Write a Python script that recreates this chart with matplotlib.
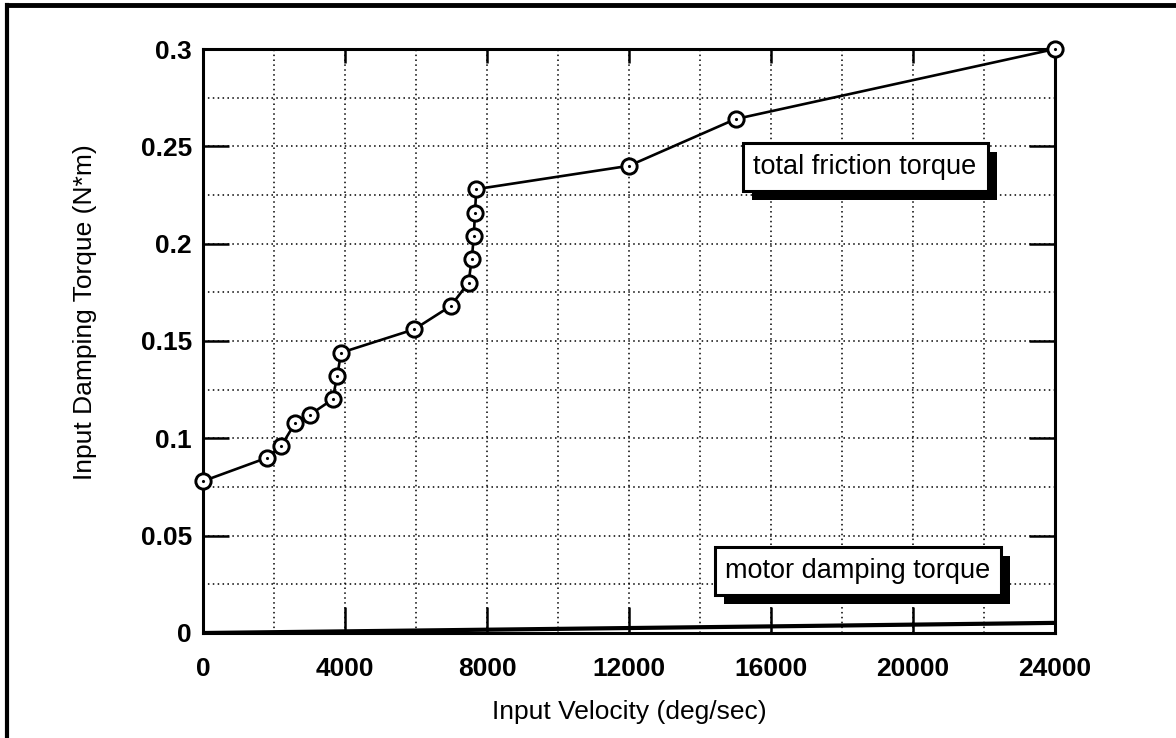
import numpy as np
import matplotlib
matplotlib.use("Agg")
import matplotlib.pyplot as plt
import matplotlib.patheffects as pe
from matplotlib.lines import Line2D

# total friction torque
vel_total = [0, 1800, 2200, 2600, 3000, 3650, 3780, 3890, 5950, 6980, 7480,
             7570, 7630, 7660, 7700, 12000, 15000, 24000]
torque_total = [0.078, 0.090, 0.096, 0.108, 0.112, 0.120, 0.132, 0.144, 0.156,
                0.168, 0.180, 0.192, 0.204, 0.216, 0.228, 0.240, 0.264, 0.300]

# motor damping torque
vel_motor = [0, 8000, 16000, 24000]
torque_motor = [0.0, 0.0017, 0.0034, 0.0052]

xticks = [0, 4000, 8000, 12000, 16000, 20000, 24000]
yticks = [0, 0.05, 0.1, 0.15, 0.2, 0.25, 0.3]
ytick_labels = ["0", "0.05", "0.1", "0.15", "0.2", "0.25", "0.3"]

font = ["Liberation Sans", "DejaVu Sans"]

fig = plt.figure(figsize=(11.76, 7.38), dpi=100)
ax = fig.add_axes([203/1176, 1-633/738, 852/1176, 584/738])

ax.plot(vel_total, torque_total, color="black", lw=1.9, marker="o", ms=11,
        mfc="white", mec="black", mew=2.1, clip_on=False, zorder=5)
ax.plot(vel_total, torque_total, ls="none", marker=".", ms=2.5, color="black",
        clip_on=False, zorder=6)
ax.plot(vel_motor, torque_motor, color="black", lw=3, zorder=4)

ax.set_xlim(0, 24000)
ax.set_ylim(0, 0.3)
ax.set_xticks(xticks)
ax.set_xticklabels([str(v) for v in xticks])
ax.set_yticks(yticks)
ax.set_yticklabels(ytick_labels)
ax.set_xticks(np.arange(0, 24001, 2000), minor=True)
ax.set_yticks(np.arange(0, 0.3001, 0.025), minor=True)
ax.grid(which="both", color="black", ls=(0, (1, 2.2)), lw=1.1)
ax.tick_params(which="major", direction="in", length=19, width=1.8,
               top=False, right=True)
ax.tick_params(which="minor", length=0)
ax.tick_params(axis="x", pad=17)
ax.tick_params(axis="y", pad=8)
for lab in ax.get_xticklabels() + ax.get_yticklabels():
    lab.set_family(font)
    lab.set_fontsize(19)
    lab.set_fontweight("bold")
for s in ax.spines.values():
    s.set_linewidth(2.2)

# shorter ticks along the top edge
top = ax.secondary_xaxis("top")
top.set_xticks(xticks)
top.tick_params(direction="in", length=10, width=1.8, labeltop=False)

ax.set_xlabel("Input Velocity (deg/sec)", family=font, fontsize=19)
ax.set_ylabel("Input Damping Torque (N*m)", family=font, fontsize=19)
ax.xaxis.set_label_coords(0.5, -0.115)
ax.yaxis.set_label_coords(-0.124, 0.55)


def shadow_box(x, y, txt):
    t = ax.text(x, y, txt, ha="center", va="center", fontsize=19.5,
                family=font, zorder=8,
                bbox=dict(boxstyle="square,pad=0.4", fc="white", ec="black",
                          lw=2.2))
    t.get_bbox_patch().set_path_effects([
        pe.SimplePatchShadow(offset=(6.5, -6.5), shadow_rgbFace="black",
                             alpha=1.0),
        pe.Normal()])


shadow_box(18650, 0.2395, "total friction torque")
shadow_box(18450, 0.0318, "motor damping torque")

# scanned page frame (left and top edges)
fig.add_artist(Line2D([7/1176, 7/1176], [0, 1-5/738], transform=fig.transFigure,
                      color="black", lw=3))
fig.add_artist(Line2D([7/1176, 1], [1-5/738, 1-5/738], transform=fig.transFigure,
                      color="black", lw=3.5))

fig.savefig("out.png", dpi=100)
